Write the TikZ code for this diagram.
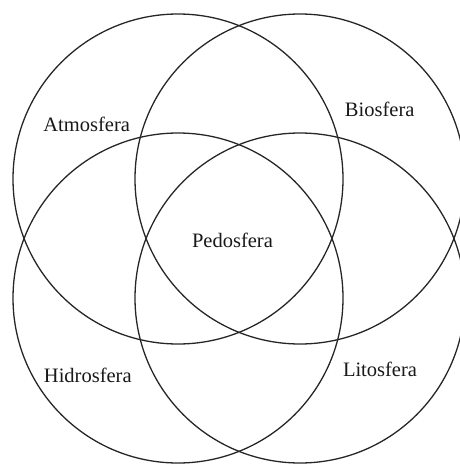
\documentclass[tikz,border=0pt]{standalone}
\usepackage{fontspec}
\setmainfont{Liberation Serif}
\begin{document}
\begin{tikzpicture}[x=1pt,y=-1pt,
  ring/.style={draw=black!85,line width=1.3pt},
  lbl/.style={font=\fontsize{20.5}{24}\selectfont,anchor=base,inner sep=0pt,text=black!90}]
\useasboundingbox (0,0) rectangle (460,466);
\clip (0,0) rectangle (460,466);
\draw[ring] (178,179) circle[radius=165pt];
\draw[ring] (300,179) circle[radius=165pt];
\draw[ring] (178,298) circle[radius=165pt];
\draw[ring] (300,298) circle[radius=165pt];
\node[lbl] (atmo) at (86.7,131.7) {Atmosfera};
\node[lbl] (bio) at (379.7,116.7) {Biosfera};
\node[lbl] (pedo) at (232.5,247.3) {Pedosfera};
\node[lbl] (hidro) at (87.8,382.3) {Hidrosfera};
\node[lbl] (lito) at (380,376.7) {Litosfera};
\end{tikzpicture}
\end{document}
